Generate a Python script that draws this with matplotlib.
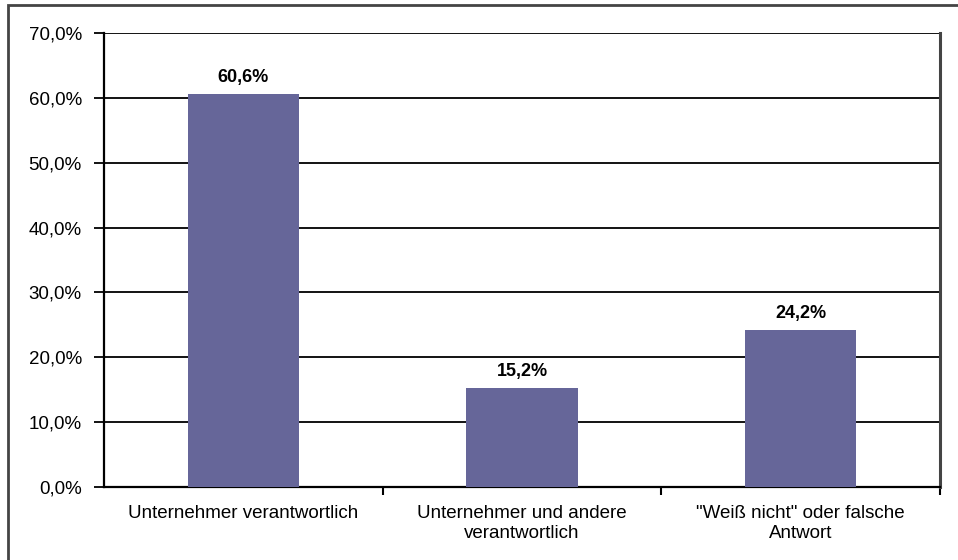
import matplotlib.pyplot as plt
from matplotlib.patches import Rectangle
from matplotlib.ticker import MultipleLocator, FuncFormatter, FixedLocator, NullFormatter

plt.rcParams['font.family'] = ['Liberation Sans', 'DejaVu Sans']

categories = ['Unternehmer verantwortlich',
              'Unternehmer und andere\nverantwortlich',
              '"Weiß nicht" oder falsche\nAntwort']
values = [60.6, 15.2, 24.2]

W, H = 958, 560
fig = plt.figure(figsize=(W / 100, H / 100), dpi=100)
ax = fig.add_axes([104 / W, (H - 487) / H, (940 - 104) / W, (487 - 33) / H])

x = range(len(categories))
ax.bar(x, values, width=0.4, color='#666699', zorder=3)

for xi, v in zip(x, values):
    ax.annotate(f'{v:.1f}%'.replace('.', ','), (xi, v), xytext=(0, 6),
                textcoords='offset points', ha='center', va='bottom',
                fontsize=13, fontweight='bold')

ax.set_xlim(-0.5, 2.5)
ax.set_ylim(0, 70)
ax.yaxis.set_major_locator(MultipleLocator(10))
ax.yaxis.set_major_formatter(FuncFormatter(lambda v, p: f'{v:.1f}%'.replace('.', ',')))
ax.grid(axis='y', color='black', linewidth=1.3, zorder=1)

# category labels at bar centres, tick marks at category boundaries
ax.set_xticks(list(x))
ax.set_xticklabels(categories, fontsize=13.5, linespacing=1.25)
ax.tick_params(axis='x', which='major', length=0, pad=13)
ax.xaxis.set_minor_locator(FixedLocator([0.5, 1.5, 2.5]))
ax.xaxis.set_minor_formatter(NullFormatter())
ax.tick_params(axis='x', which='minor', length=6, width=1.5, direction='out')
ax.tick_params(axis='y', length=7, width=1.3, direction='out', labelsize=13.5, pad=9)

for side in ['left', 'bottom']:
    ax.spines[side].set_linewidth(1.6)
    ax.spines[side].set_color('black')
ax.spines['top'].set_visible(False)
ax.spines['right'].set_linewidth(2.2)
ax.spines['right'].set_color('#444444')

# chart frame
fig.patches.append(Rectangle((8 / W, -0.1), 1.2, 1.1 - 5 / H,
                             transform=fig.transFigure, fill=False,
                             edgecolor='#444444', linewidth=2))

fig.savefig('out.png', dpi=100)
